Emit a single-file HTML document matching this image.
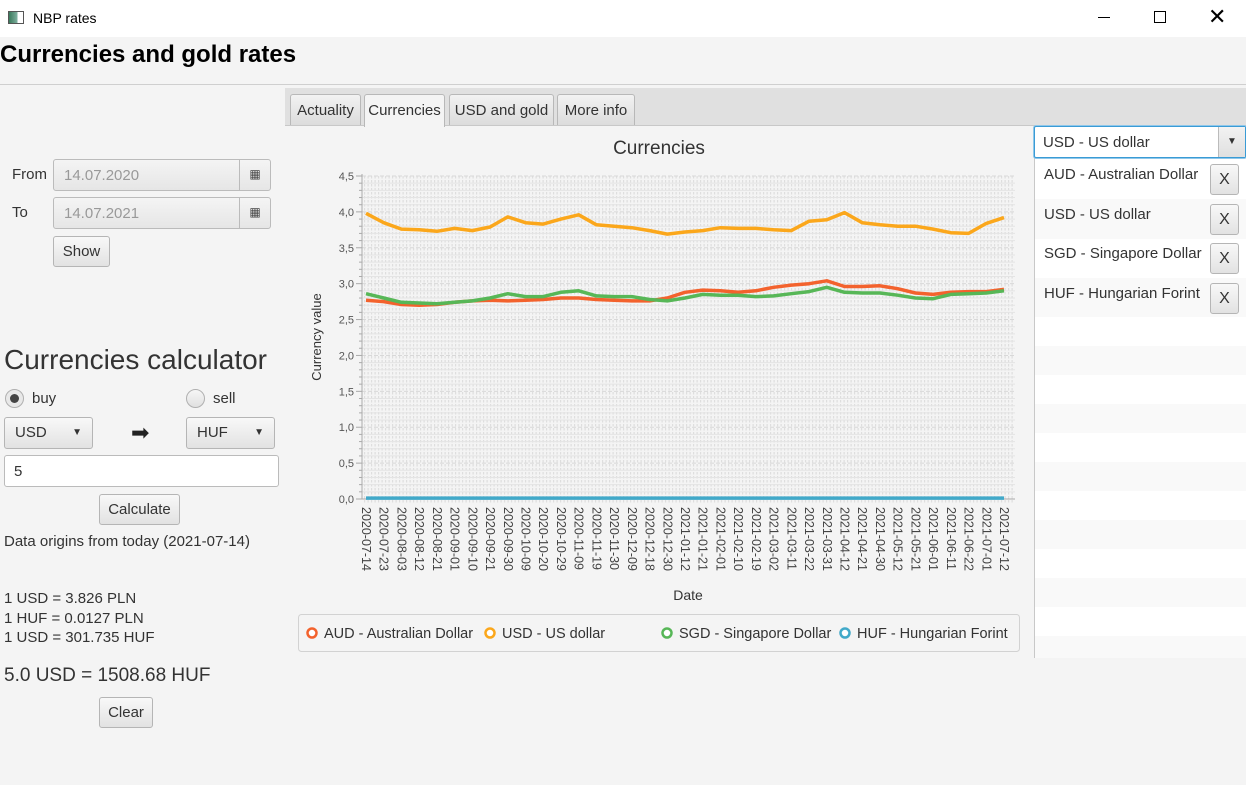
<!DOCTYPE html>
<html><head><meta charset="utf-8"><style>
*{box-sizing:border-box;margin:0;padding:0}
body{width:1246px;height:785px;background:#f4f4f4;font-family:"Liberation Sans",sans-serif;color:#333;position:relative;overflow:hidden;font-size:15px}
.a{position:absolute}
.btn{position:absolute;border:1px solid #b5b5b5;border-radius:3px;background:linear-gradient(#f8f8f8,#e2e2e2);text-align:center;color:#333}
.tab{position:absolute;top:94px;height:31px;border:1px solid #b8b8b8;border-bottom:none;border-radius:3px 3px 0 0;background:linear-gradient(#f2f2f2,#dcdcdc);font-size:15px;line-height:31px;text-align:center;color:#333}
.row{position:absolute;left:1035px;width:211px}
</style></head><body>
<div class="a" style="left:0;top:0;width:1246px;height:37px;background:#fff">
 <div class="a" style="left:8px;top:11px;width:16px;height:13px;background:linear-gradient(90deg,#3a7a5c,#7fb0a0 60%,#fff 60%);border:1px solid #555"></div>
 <div class="a" style="left:33px;top:10px;font-size:14px;color:#000">NBP rates</div>
 <div class="a" style="left:1098px;top:17px;width:12px;height:1px;background:#000"></div>
 <div class="a" style="left:1154px;top:11px;width:12px;height:12px;border:1px solid #000"></div>
 <div class="a" style="left:1208px;top:4px;font-size:22px;color:#000;line-height:26px">✕</div>
</div>
<div class="a" style="left:0;top:41px;font-size:24px;font-weight:bold;color:#000">Currencies and gold rates</div>
<div class="a" style="left:0;top:84px;width:1246px;height:1px;background:#cfcfcf"></div>

<div class="a" style="left:285px;top:88px;width:961px;height:38px;background:#e0e0e0;border-bottom:1px solid #c8c8c8"></div>
<div class="tab" style="left:290px;width:71px">Actuality</div>
<div class="tab" style="left:364px;width:81px;background:#f4f4f4;height:33px">Currencies</div>
<div class="tab" style="left:449px;width:105px">USD and gold</div>
<div class="tab" style="left:557px;width:78px">More info</div>

<!-- left panel -->
<div class="a" style="left:12px;top:166px">From</div>
<div class="a" style="left:53px;top:159px;width:218px;height:32px;border:1px solid #bbb;border-radius:3px;background:linear-gradient(#f4f4f4,#e6e6e6);color:#999;padding:7px 10px">14.07.2020<div class="a" style="right:0;top:0;width:31px;height:30px;border-left:1px solid #bbb;text-align:center;line-height:28px;color:#444;font-size:12px">▦</div></div>
<div class="a" style="left:12px;top:204px">To</div>
<div class="a" style="left:53px;top:197px;width:218px;height:32px;border:1px solid #bbb;border-radius:3px;background:linear-gradient(#f4f4f4,#e6e6e6);color:#999;padding:7px 10px">14.07.2021<div class="a" style="right:0;top:0;width:31px;height:30px;border-left:1px solid #bbb;text-align:center;line-height:28px;color:#444;font-size:12px">▦</div></div>
<div class="btn" style="left:53px;top:236px;width:57px;height:31px;line-height:29px">Show</div>

<div class="a" style="left:4px;top:344px;font-size:28px;color:#333">Currencies calculator</div>
<div class="a" style="left:5px;top:389px;width:19px;height:19px;border-radius:50%;border:1px solid #b0b0b0;background:#e8e8e8"><div class="a" style="left:4px;top:4px;width:9px;height:9px;border-radius:50%;background:#444"></div></div>
<div class="a" style="left:32px;top:390px">buy</div>
<div class="a" style="left:186px;top:389px;width:19px;height:19px;border-radius:50%;border:1px solid #b0b0b0;background:linear-gradient(#f6f6f6,#e0e0e0)"></div>
<div class="a" style="left:213px;top:390px">sell</div>
<div class="btn" style="left:4px;top:417px;width:89px;height:32px;line-height:30px;text-align:left;padding-left:10px">USD<span class="a" style="right:10px;top:0;font-size:10px">▼</span></div>
<div class="a" style="left:131px;top:420px;font-size:22px;color:#222">➡</div>
<div class="btn" style="left:186px;top:417px;width:89px;height:32px;line-height:30px;text-align:left;padding-left:10px">HUF<span class="a" style="right:10px;top:0;font-size:10px">▼</span></div>
<div class="a" style="left:4px;top:455px;width:275px;height:32px;border:1px solid #bbb;border-radius:3px;background:#fff;padding:7px 9px">5</div>
<div class="btn" style="left:99px;top:494px;width:81px;height:31px;line-height:29px">Calculate</div>
<div class="a" style="left:4px;top:533px">Data origins from today (2021-07-14)</div>
<div class="a" style="left:4px;top:590px">1 USD = 3.826 PLN</div>
<div class="a" style="left:4px;top:610px">1 HUF = 0.0127 PLN</div>
<div class="a" style="left:4px;top:629px">1 USD = 301.735 HUF</div>
<div class="a" style="left:4px;top:665px;font-size:19px">5.0 USD = 1508.68 HUF</div>
<div class="btn" style="left:99px;top:697px;width:54px;height:31px;line-height:29px">Clear</div>

<!-- right panel -->
<div class="a" style="left:1034px;top:158px;width:212px;height:500px;background:#fff;border-left:1px solid #c8c8c8"></div>
<div id="rows"></div>
<div class="a" style="left:1034px;top:126px;width:212px;height:32px;border:1px solid #3a9bd5;border-radius:2px;background:#fff;padding:7px 8px;box-shadow:0 0 0 1px #8fc7ea">USD - US dollar<div class="a" style="left:1186px;left:auto;right:0;top:0;width:27px;height:30px;border-left:1px solid #bbb;background:linear-gradient(#f2f2f2,#e0e0e0);text-align:center;line-height:30px;font-size:10px">▼</div></div>
<div class="a" style="left:1044px;top:166px">AUD - Australian Dollar</div>
<div class="btn" style="left:1210px;top:164px;width:29px;height:31px;line-height:30px;font-size:16px">X</div>
<div class="a" style="left:1044px;top:206px">USD - US dollar</div>
<div class="btn" style="left:1210px;top:204px;width:29px;height:31px;line-height:30px;font-size:16px">X</div>
<div class="a" style="left:1044px;top:245px">SGD - Singapore Dollar</div>
<div class="btn" style="left:1210px;top:243px;width:29px;height:31px;line-height:30px;font-size:16px">X</div>
<div class="a" style="left:1044px;top:285px">HUF - Hungarian Forint</div>
<div class="btn" style="left:1210px;top:283px;width:29px;height:31px;line-height:30px;font-size:16px">X</div>

<svg id="chart" class="a" style="left:0;top:0" width="1246" height="785" font-family="Liberation Sans, sans-serif">
 <defs><pattern id="vg" width="3.5" height="4" patternUnits="userSpaceOnUse"><rect width="1.2" height="2.5" fill="#dedede"/></pattern></defs>
</svg>
<script>
const dates=["2020-07-14","2020-07-23","2020-08-03","2020-08-12","2020-08-21","2020-09-01","2020-09-10","2020-09-21","2020-09-30","2020-10-09","2020-10-20","2020-10-29","2020-11-09","2020-11-19","2020-11-30","2020-12-09","2020-12-18","2020-12-30","2021-01-12","2021-01-21","2021-02-01","2021-02-10","2021-02-19","2021-03-02","2021-03-11","2021-03-22","2021-03-31","2021-04-12","2021-04-21","2021-04-30","2021-05-12","2021-05-21","2021-06-01","2021-06-11","2021-06-22","2021-07-01","2021-07-12"];
const audVals=[2.77,2.75,2.71,2.70,2.71,2.74,2.76,2.77,2.76,2.77,2.78,2.80,2.80,2.78,2.77,2.76,2.76,2.80,2.88,2.91,2.90,2.88,2.90,2.95,2.98,3.00,3.04,2.96,2.96,2.97,2.93,2.87,2.85,2.88,2.89,2.89,2.92];
const usdVals=[3.98,3.85,3.76,3.75,3.73,3.77,3.74,3.79,3.93,3.85,3.83,3.90,3.96,3.82,3.80,3.78,3.74,3.69,3.72,3.74,3.78,3.77,3.77,3.75,3.74,3.87,3.89,3.99,3.85,3.82,3.80,3.80,3.76,3.71,3.70,3.84,3.92];
const sgdVals=[2.86,2.80,2.74,2.73,2.72,2.74,2.76,2.80,2.86,2.82,2.82,2.88,2.90,2.83,2.82,2.82,2.78,2.76,2.80,2.85,2.84,2.84,2.82,2.83,2.86,2.89,2.95,2.88,2.87,2.87,2.84,2.80,2.79,2.85,2.86,2.87,2.90];
const hufVals=[0.0125,0.0124,0.0124,0.0125,0.0126,0.0125,0.0124,0.0123,0.0122,0.0122,0.0122,0.0123,0.0125,0.0125,0.0126,0.0126,0.0126,0.0125,0.0126,0.0126,0.0126,0.0125,0.0124,0.0124,0.0124,0.0123,0.0123,0.0125,0.0125,0.0126,0.0127,0.0127,0.0127,0.0127,0.0127,0.0127,0.0127];
const yTicks=["0,0","0,5","1,0","1,5","2,0","2,5","3,0","3,5","4,0","4,5"];
const seriesNames=["AUD - Australian Dollar","USD - US dollar","SGD - Singapore Dollar","HUF - Hungarian Forint"];
const colors=["#f3622d","#fba71b","#57b757","#41a9c9"];
const svg=document.getElementById('chart');
const NS='http://www.w3.org/2000/svg';
const X0=366,X1=1004,Y0=499,Y1=176,YMAX=4.5,L=362,R=1015;
function xs(i){return X0+i*(X1-X0)/(dates.length-1);}
function ys(v){return Y0-v*(Y0-Y1)/YMAX;}
function mk(t,a,p){const e=document.createElementNS(NS,t);for(const k in a)e.setAttribute(k,a[k]);(p||svg).appendChild(e);return e;}
let e;
e=mk('rect',{x:L,y:Y1,width:R-L,height:Y0-Y1+4,fill:'url(#vg)'});


for(let k=0;k<=45;k++){const v=k*0.1,y=ys(v);
 e=mk('line',{x1:L,x2:R,y1:y,y2:y,stroke:k%5==0?'#d8d8d8':'#e4e4e4','stroke-width':1,'stroke-dasharray':k%5==0?'4 2':'none'});
 
 
 e=mk('line',{x1:k%5==0?L-6:L-3,x2:L,y1:y,y2:y,stroke:'#aaa'});
 
 
}
yTicks.forEach((t,i)=>{e=mk('text',{x:L-8,y:ys(i*0.5)+4,'text-anchor':'end','font-size':11,fill:'#555'});e.textContent=t;
 
 });
e=mk('line',{x1:L,x2:L,y1:Y1-2,y2:Y0,stroke:'#aaa'});


e=mk('line',{x1:L,x2:R,y1:Y0,y2:Y0,stroke:'#aaa'});


dates.forEach((d,i)=>{const x=xs(i);
 e=mk('text',{x:0,y:0,transform:`translate(${x-4},${Y0+8}) rotate(90)`,'font-size':12.5,fill:'#444'});e.textContent=d;
 
 });
[audVals,usdVals,sgdVals,hufVals].forEach((vals,s)=>{
 const pts=vals.map((v,i)=>xs(i).toFixed(1)+','+ys(v).toFixed(1)).join(' ');
 e=mk('polyline',{points:pts,fill:'none',stroke:colors[s],'stroke-width':3.5,'stroke-linejoin':'round'});
 
 
});
e=mk('text',{x:659,y:154,'text-anchor':'middle','font-size':19,fill:'#333'});e.textContent='Currencies';


e=mk('text',{x:688,y:600,'text-anchor':'middle','font-size':14,fill:'#333'});e.textContent='Date';


e=mk('text',{x:0,y:0,transform:'translate(321,337) rotate(-90)','text-anchor':'middle','font-size':13,fill:'#333'});e.textContent='Currency value';


e=mk('rect',{x:298.5,y:614.5,width:721,height:37,rx:3,fill:'#f4f4f4',stroke:'#d2d2d2'});


const legX=[312,490,667,845];
seriesNames.forEach((n,s)=>{
 const g=mk('g',{});
 
 
 mk('circle',{cx:legX[s],cy:633,r:4.5,fill:'#fff',stroke:colors[s],'stroke-width':2.5},g);
 const t=mk('text',{x:legX[s]+12,y:638,'font-size':14.5,fill:'#333'},g);t.textContent=n;
});
const rows=document.getElementById('rows');
const rowSpec=[[160,39],[199,40],[239,39],[278,39]];
for(let y=317;y<658;y+=29)rowSpec.push([y,29]);
rowSpec.forEach((r,i)=>{const d=document.createElement('div');d.className='row';d.style.top=r[0]+'px';d.style.height=Math.min(r[1],658-r[0])+'px';d.style.background=i%2?'#f9f9f9':'#fff';
 
 
 rows.appendChild(d);});
</script>
</body></html>
